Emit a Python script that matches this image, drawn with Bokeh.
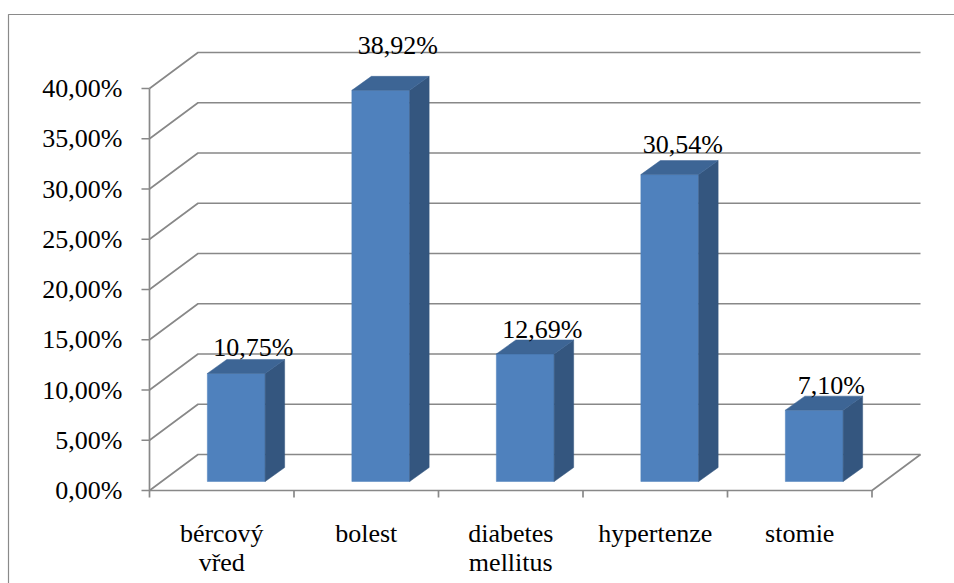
from bokeh.plotting import figure
from bokeh.models import Range1d
from bokeh.core.properties import value
from bokeh.embed import file_html
from bokeh.resources import INLINE

# ---- data -------------------------------------------------------------
categories = ["bércový\nvřed", "bolest", "diabetes\nmellitus", "hypertenze", "stomie"]
shares = [10.75, 38.92, 12.69, 30.54, 7.10]          # percent
y_ticks = [0, 5, 10, 15, 20, 25, 30, 35, 40]

# ---- layout (screen pixels) ------------------------------------------
W, H = 954, 583
PX_X = 144.5                  # pixels per category slot
PX_Y = 10.05                  # pixels per percentage point
ORIGIN_X, ORIGIN_Y = 149, 490  # front corner of the 0 % floor


def hx(px):
    return px / PX_X


def vy(px):
    return px / PX_Y


WALL_DX, WALL_DY = hx(48.5), vy(36)   # depth of the back wall
BAR_FX, BAR_FY = hx(14.5), vy(9)      # bar front plane inside the box
BAR_SX, BAR_SY = hx(19.5), vy(14)     # bar depth
BAR_W = 0.4

# per-label nudges of the value labels (pixels)
label_dx_px = [17, 17, 17, 13, 17]
label_lift_px = [26, 45, 24, 30, 25]

FONT = value("Liberation Serif")
FONT_SIZE = "26px"
GRID = "#888888"

n = len(categories)

p = figure(
    width=W, height=H,
    x_range=Range1d(-hx(ORIGIN_X), hx(W - ORIGIN_X)),
    y_range=Range1d(-vy(H - ORIGIN_Y), vy(ORIGIN_Y)),
    output_backend="svg", toolbar_location=None,
    x_axis_location=None, y_axis_location=None,
    min_border=0, outline_line_color=None,
    background_fill_color="white", border_fill_color="white",
)
p.grid.visible = False

# chart-area border (left and top edges)
bx = hx(8 - ORIGIN_X)
by = vy(ORIGIN_Y - 14)
p.line(x=[bx, bx, hx(W - ORIGIN_X) + 0.2], y=[-vy(H - ORIGIN_Y) - 1, by, by],
       line_color="#8a8a8a", line_width=1.2)

# back wall gridlines and side-wall diagonals
xs, ys = [], []
for t in y_ticks:
    xs.append([0, WALL_DX, n + WALL_DX])
    ys.append([t, t + WALL_DY, t + WALL_DY])
# floor: front edge and right edge
xs.append([0, n, n + WALL_DX])
ys.append([0, 0, WALL_DY])
# value axis
xs.append([0, 0])
ys.append([y_ticks[0] - vy(7), y_ticks[-1]])
# value-axis ticks
for t in y_ticks:
    xs.append([-hx(8), 0])
    ys.append([t, t])
# category ticks
for i in range(1, n + 1):
    xs.append([i, i])
    ys.append([0, -vy(7)])
p.multi_line(xs=xs, ys=ys, line_color=GRID, line_width=1.7)

# value-axis labels
p.text(x=[-hx(27)] * len(y_ticks), y=y_ticks,
       text=[f"{t:.2f}%".replace(".", ",") for t in y_ticks],
       text_align="right", text_baseline="middle",
       text_font=FONT, text_font_size=FONT_SIZE, text_color="black")

# category labels (one text per line)
cx, cy, ct = [], [], []
for i, name in enumerate(categories):
    for j, line in enumerate(name.split("\n")):
        cx.append(i + 0.5)
        cy.append(-vy(43 + 29 * j))
        ct.append(line)
p.text(x=cx, y=cy, text=ct, text_align="center", text_baseline="alphabetic",
       text_font=FONT, text_font_size=FONT_SIZE, text_color="black")

# 3-D columns
left = [i + 0.5 - BAR_W / 2 + BAR_FX for i in range(n)]
right = [i + 0.5 + BAR_W / 2 + BAR_FX for i in range(n)]
bottom = [BAR_FY] * n
top = [v + BAR_FY for v in shares]

p.quad(left=left, right=right, bottom=bottom, top=top,
       fill_color="#4f81bd", line_color="#4f81bd", line_width=0.5)

side_x = [[r, r + BAR_SX, r + BAR_SX, r] for r in right]
side_y = [[b, b + BAR_SY, tp + BAR_SY, tp] for b, tp in zip(bottom, top)]
p.patches(xs=side_x, ys=side_y, fill_color="#34567f", line_color="#34567f", line_width=0.5)

top_x = [[l, r, r + BAR_SX, l + BAR_SX] for l, r in zip(left, right)]
top_y = [[tp, tp, tp + BAR_SY, tp + BAR_SY] for tp in top]
p.patches(xs=top_x, ys=top_y, fill_color="#3d6595", line_color="#3d6595", line_width=0.5)

# value labels
lx = [i + 0.5 + BAR_FX + hx(d) for i, d in enumerate(label_dx_px)]
ly = [v + BAR_FY + vy(l) for v, l in zip(shares, label_lift_px)]
p.text(x=lx, y=ly, text=[f"{v:.2f}%".replace(".", ",") for v in shares],
       text_align="center", text_baseline="alphabetic",
       text_font=FONT, text_font_size=FONT_SIZE, text_color="black")

open("out.html", "w").write(file_html(p, INLINE))
